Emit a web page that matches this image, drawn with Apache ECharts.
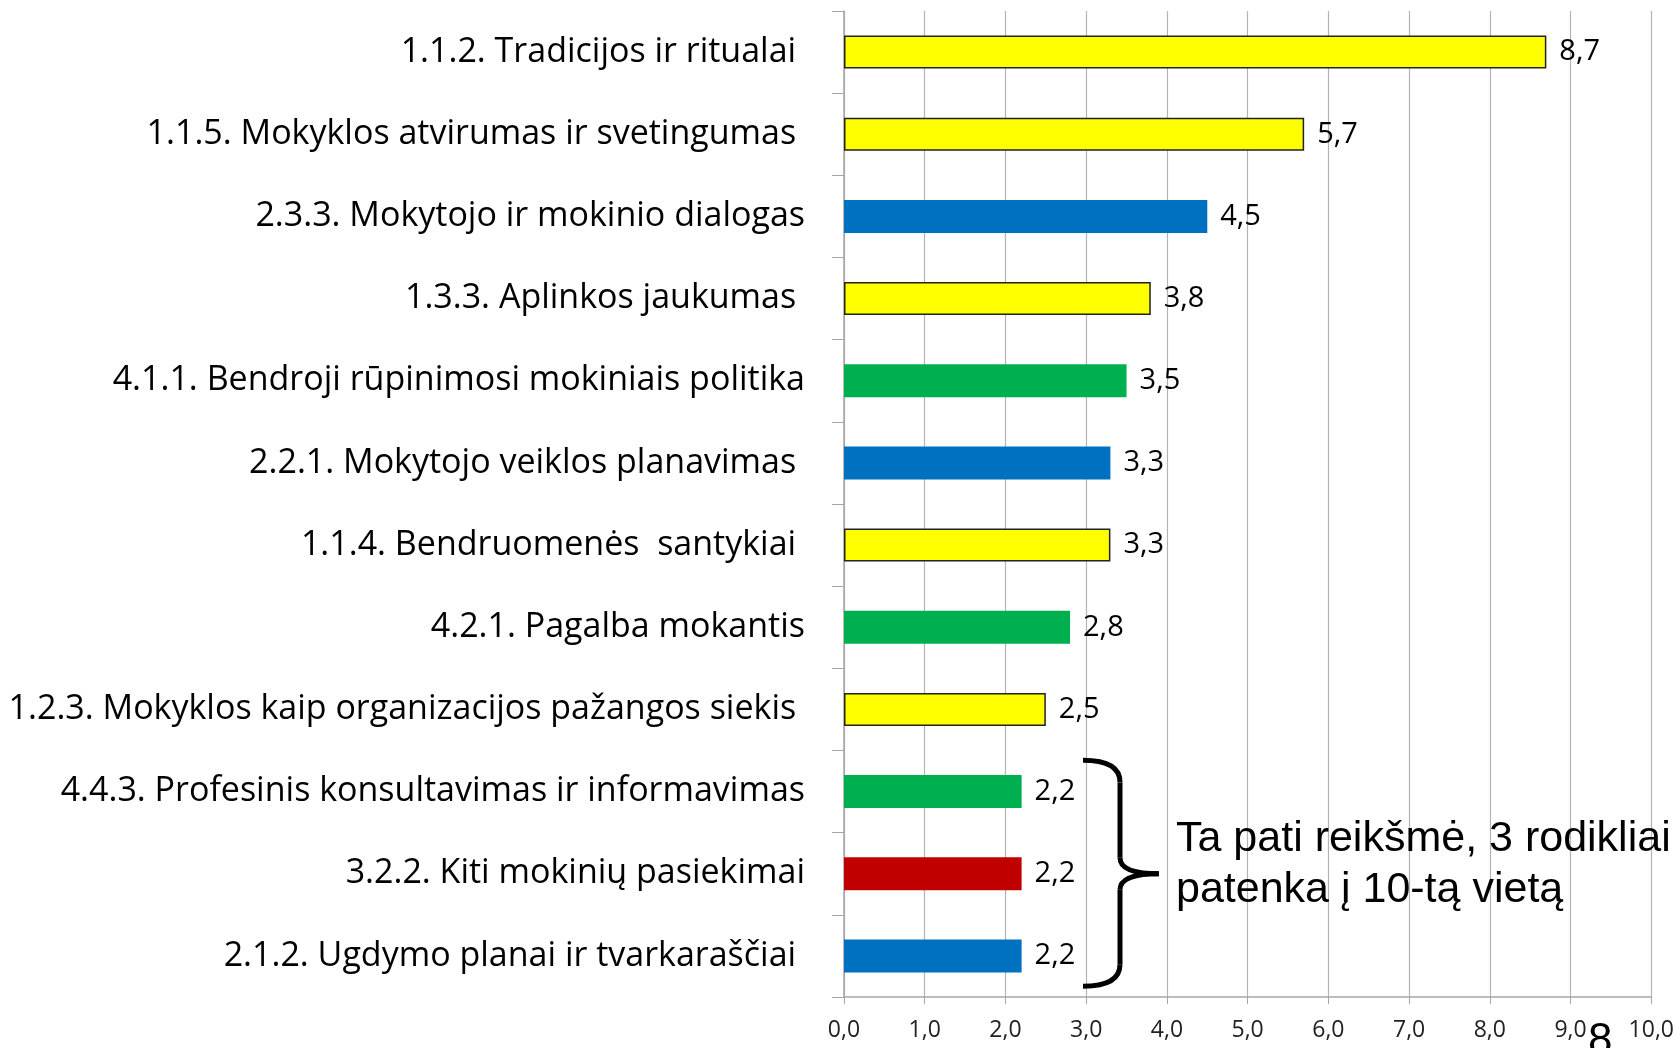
<!DOCTYPE html>
<html>
<head>
<meta charset="utf-8">
<script src="https://cdn.jsdelivr.net/npm/echarts@6/dist/echarts.min.js"></script>
<style>
  html, body { margin: 0; padding: 0; background: #fff; }
  #main { width: 1677px; height: 1048px; }
</style>
</head>
<body>
<div id="main"></div>
<script>
// rodikliai (iš viršaus į apačią)
var categories = [
    "1.1.2. Tradicijos ir ritualai ",
    "1.1.5. Mokyklos atvirumas ir svetingumas ",
    "2.3.3. Mokytojo ir mokinio dialogas",
    "1.3.3. Aplinkos jaukumas ",
    "4.1.1. Bendroji rūpinimosi mokiniais politika",
    "2.2.1. Mokytojo veiklos planavimas ",
    "1.1.4. Bendruomenės  santykiai ",
    "4.2.1. Pagalba mokantis",
    "1.2.3. Mokyklos kaip organizacijos pažangos siekis ",
    "4.4.3. Profesinis konsultavimas ir informavimas",
    "3.2.2. Kiti mokinių pasiekimai",
    "2.1.2. Ugdymo planai ir tvarkaraščiai "
];
var values = [8.7, 5.7, 4.5, 3.8, 3.5, 3.3, 3.3, 2.8, 2.5, 2.2, 2.2, 2.2];
// sritis: 1 - geltona, 2 - mėlyna, 3 - raudona, 4 - žalia
var areas = [1, 1, 2, 1, 4, 2, 1, 4, 1, 4, 3, 2];
var areaColors = { 1: "#ffff00", 2: "#0070c0", 3: "#c00000", 4: "#00b050" };
var xTicks = [0, 1, 2, 3, 4, 5, 6, 7, 8, 9, 10];

var labelFont = "'Open Sans', Lato, sans-serif";

var chart = echarts.init(document.getElementById("main"));

var barData = [];
for (var i = 0; i < values.length; i++) {
    var a = areas[i];
    barData.push({
        value: values[i],
        itemStyle: {
            color: areaColors[a],
            borderColor: a == 1 ? "#222" : areaColors[a],
            borderWidth: a == 1 ? 1.5 : 0
        }
    });
}

var option = {
    animation: false,
    grid: { left: 844, right: 23, top: 11, bottom: 51 },
    xAxis: {
        type: "value",
        min: xTicks[0],
        max: xTicks[xTicks.length - 1],
        interval: 1,
        axisLine: { show: true, lineStyle: { color: "#a6a6a6", width: 1.5 } },
        axisTick: { show: true, length: 7, lineStyle: { color: "#a6a6a6" } },
        splitLine: { show: true, lineStyle: { color: "#b4b4b4", width: 1.2 } },
        axisLabel: {
            margin: 22,
            fontFamily: labelFont,
            fontSize: 23,
            color: "#222",
            formatter: function (v) { return v.toFixed(1).replace(".", ","); }
        }
    },
    yAxis: {
        type: "category",
        inverse: true,
        data: categories,
        axisLine: { show: true, lineStyle: { color: "#a6a6a6", width: 1.5 } },
        axisTick: { show: true, length: 12, lineStyle: { color: "#a6a6a6" } },
        axisLabel: {
            margin: 39,
            fontFamily: labelFont,
            fontSize: 34,
            color: "#000"
        }
    },
    series: [{
        type: "bar",
        data: barData,
        barWidth: 33,
        label: {
            show: true,
            position: "right",
            distance: 13,
            fontFamily: labelFont,
            fontSize: 29,
            color: "#000",
            formatter: function (p) { return p.value.toFixed(1).replace(".", ","); }
        }
    }]
};
chart.setOption(option);

// skliaustas prie paskutinių trijų rodiklių
var yTop = chart.convertToPixel({ yAxisIndex: 0 }, categories[9]);
var yMid = chart.convertToPixel({ yAxisIndex: 0 }, categories[10]);
var band = yMid - yTop;
var t = yMid - band * 1.38, b = yMid + band * 1.37;
var x0 = 1083, x1 = 1120, x2 = 1159;
var braceStyle = { stroke: "#000", lineWidth: 5, fill: null };

chart.setOption({
    graphic: [
        { type: "bezierCurve", shape: { x1: x0, y1: t, x2: x1, y2: t + 22, cpx1: x1, cpy1: t }, style: braceStyle },
        { type: "line", shape: { x1: x1, y1: t + 22, x2: x1, y2: yMid - 16 }, style: braceStyle },
        { type: "bezierCurve", shape: { x1: x1, y1: yMid - 16, x2: x2, y2: yMid, cpx1: x1, cpy1: yMid }, style: braceStyle },
        { type: "bezierCurve", shape: { x1: x2, y1: yMid, x2: x1, y2: yMid + 16, cpx1: x1, cpy1: yMid }, style: braceStyle },
        { type: "line", shape: { x1: x1, y1: yMid + 16, x2: x1, y2: b - 22 }, style: braceStyle },
        { type: "bezierCurve", shape: { x1: x1, y1: b - 22, x2: x0, y2: b, cpx1: x1, cpy1: b }, style: braceStyle },
        {
            type: "text",
            left: 1176,
            top: yMid - 60,
            style: {
                text: "Ta pati reikšmė, 3 rodikliai\npatenka į 10-tą vietą",
                font: "43px 'Liberation Sans', Arial, sans-serif",
                lineHeight: 51,
                fill: "#000"
            }
        },
        {
            type: "text",
            left: 1588,
            top: 1020,
            style: {
                text: "8",
                font: "44px 'Liberation Sans', Arial, sans-serif",
                fill: "#000"
            }
        }
    ]
});
</script>
</body>
</html>
